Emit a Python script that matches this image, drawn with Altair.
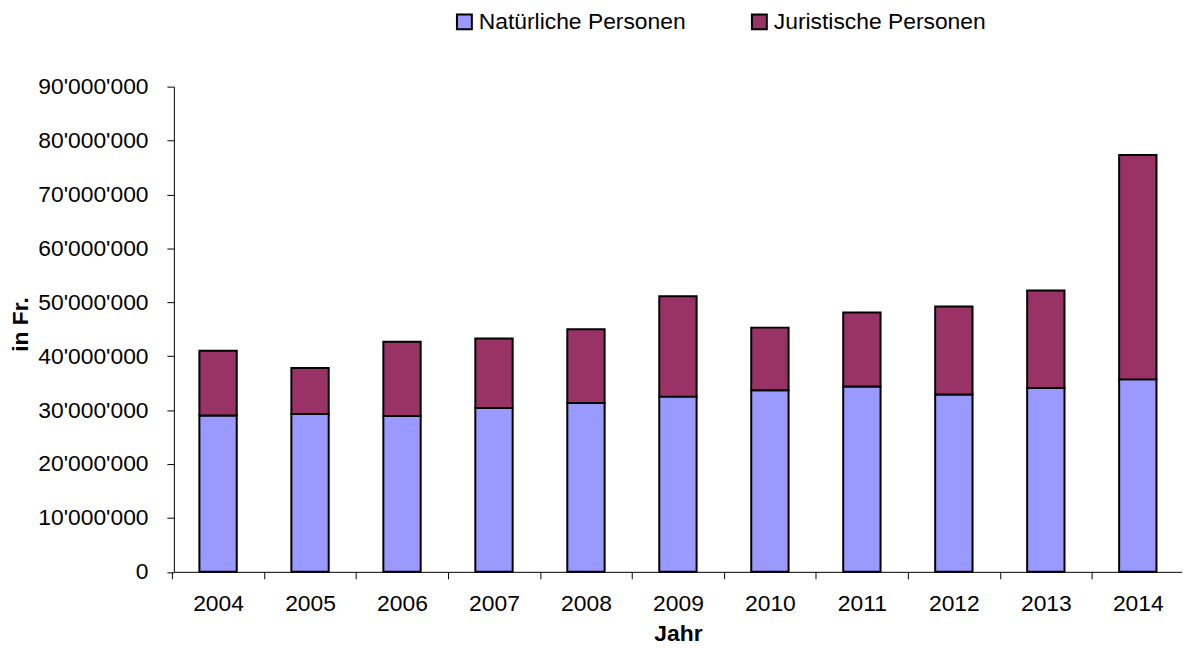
import altair as alt
import pandas as pd

years = ["2004", "2005", "2006", "2007", "2008", "2009", "2010", "2011", "2012", "2013", "2014"]
# values in millions of Fr.
natuerliche = [29.0, 29.3, 28.9, 30.4, 31.3, 32.5, 33.7, 34.4, 32.9, 34.1, 35.7]
juristische = [12.0, 8.5, 13.8, 12.9, 13.7, 18.6, 11.6, 13.7, 16.3, 18.1, 41.6]
series = ["Natürliche Personen", "Juristische Personen"]
colors = ["#9999FF", "#993366"]
y_ticks = [0, 10000000, 20000000, 30000000, 40000000, 50000000,
           60000000, 70000000, 80000000, 90000000]

rows = []
for i, yr in enumerate(years):
    rows.append({"Jahr": yr, "Kategorie": series[0], "Betrag": natuerliche[i] * 1e6, "ord": 0})
    rows.append({"Jahr": yr, "Kategorie": series[1], "Betrag": juristische[i] * 1e6, "ord": 1})
df = pd.DataFrame(rows)

FONT = "Liberation Sans"
label_expr = "replace(format(datum.value, ','), regexp(',', 'g'), \"'\")"

PLOT_W = 1015
P_INNER = 0.594
P_OUTER = 0.2775
STEP = PLOT_W / (len(years) - P_INNER + 2 * P_OUTER)

chart = alt.Chart(df).mark_bar(stroke="black", strokeWidth=2, opacity=1).encode(
    x=alt.X(
        "Jahr:N", sort=years, title="Jahr",
        scale=alt.Scale(paddingInner=P_INNER, paddingOuter=P_OUTER),
        axis=alt.Axis(labelAngle=0, tickOffset=-STEP / 2, labelOffset=STEP / 2,
                      tickSize=7, labelPadding=14, titleBaseline="alphabetic",
                      titleY=69.5, titlePadding=0),
    ),
    y=alt.Y(
        "Betrag:Q", stack="zero", title="in Fr.",
        scale=alt.Scale(domain=[0, 90000000], nice=False),
        axis=alt.Axis(values=y_ticks, labelExpr=label_expr, tickSize=7, labelPadding=19,
                      titleAngle=270, titleX=-147, titleY=239, titleAlign="center",
                      titleBaseline="alphabetic"),
    ),
    color=alt.Color(
        "Kategorie:N",
        scale=alt.Scale(domain=series, range=colors),
        legend=alt.Legend(
            title=None, orient="none", legendX=281, legendY=-77, direction="horizontal",
            symbolType="square", symbolSize=225, symbolStrokeColor="black",
            symbolStrokeWidth=2, symbolOpacity=1, labelFontSize=23, labelFont=FONT,
            labelColor="black", labelOffset=3, columnPadding=62, padding=0,
            labelLimit=0,
        ),
    ),
    order=alt.Order("ord:Q"),
).properties(
    width=PLOT_W,
    height=488.5,
    padding={"left": 167, "top": 77, "right": 0, "bottom": 73.5},
    autosize=alt.AutoSizeParams(type="none"),
).configure_view(
    stroke=None
).configure_axis(
    grid=False,
    domainColor="black",
    tickColor="black",
    labelColor="black",
    titleColor="black",
    labelFont=FONT,
    titleFont=FONT,
    labelFontSize=23,
    titleFontSize=23,
    titleFontWeight="bold",
)

chart.save("out.html", embed_options={"renderer": "svg", "actions": False})
